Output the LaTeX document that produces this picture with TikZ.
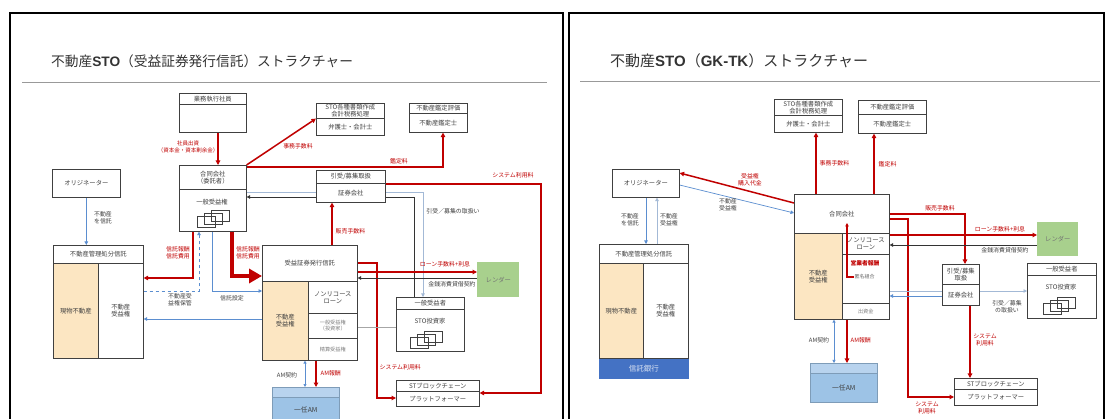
\documentclass[tikz,border=0pt]{standalone}
\usepackage{fontspec}
\setmainfont{Noto Sans CJK JP}
\newfontfamily\arialf{Liberation Sans}
\usetikzlibrary{arrows.meta}
\definecolor{myred}{HTML}{C00000}
\definecolor{myblue}{HTML}{5B8ED0}
\definecolor{lblue}{HTML}{A3B9D6}
\definecolor{beige}{HTML}{FCE6C2}
\definecolor{lgreen}{HTML}{A8D08D}
\definecolor{amblue}{HTML}{9DC3E6}
\definecolor{amtop}{HTML}{B8D3EE}
\definecolor{bankblue}{HTML}{4472C4}
\definecolor{txt}{HTML}{404040}
\pgfdeclarelayer{back}
\pgfdeclarelayer{bg}
\pgfsetlayers{back,bg,main}
\newcommand\bx[6]{\node[#1,anchor=north west,minimum width=#4pt-#2pt,minimum height=#5pt-#3pt] (#6) at (#2,#3)}
\newcommand\icn[2]{%
  \draw[icon] (#1,#2+6) rectangle ++(18,11);
  \draw[icon] (#1+7,#2+3) rectangle ++(18,11);
  \draw[icon] (#1+14,#2) rectangle ++(18,11);}
\begin{document}
\begin{tikzpicture}[x=1pt,y=-1pt,
  box/.style={draw=black!75, fill=white, line width=0.6pt, inner sep=0pt, text=txt, font=\fontsize{6.3}{7}\selectfont, align=center},
  graytext/.style={text=black!50, font=\fontsize{5.2}{6}\selectfont},
  amh/.style={box, draw=amblue!80!black, fill=amtop},
  amb/.style={box, draw=amblue!80!black, fill=amblue, font=\fontsize{6.8}{7}\selectfont},
  icon/.style={draw=black!75, line width=0.6pt},
  arrtip/.style={-{Triangle[length=3.5pt,width=3.5pt]}},
  dbltip/.style={{Triangle[length=3pt,width=3pt]}-{Triangle[length=3pt,width=3pt]}},
  redarr/.style={draw=myred, line width=1.5pt, -{Triangle[length=4.5pt,width=4.5pt]}},
  blkarr/.style={draw=black!80, line width=0.7pt, arrtip},
  blueln/.style={draw=myblue, line width=0.7pt},
  lbline/.style={draw=lblue, line width=0.7pt},
  grayln/.style={draw=black!35, line width=0.6pt},
  lbl/.style={text=txt, font=\fontsize{5.9}{6.7}\selectfont, align=center, inner sep=0.5pt},
  redlbl/.style={lbl, text=myred}]
\useasboundingbox (0,0) rectangle (1108,419);
\begin{pgfonlayer}{back}
\fill[white] (0,0) rectangle (1108,419);
\end{pgfonlayer}
% frames
\draw[line width=1.6pt] (10,422) -- (10,13) -- (563,13) -- (563,422);
\draw[line width=1.6pt] (569,422) -- (569,13) -- (1104,13) -- (1104,422);
\node[anchor=west, inner sep=0pt, font=\fontsize{13.7}{16}\selectfont, text=black!80] (Ltitle) at (51,61) {不動産{\arialf\bfseries STO}（受益証券発行信託）ストラクチャー};
\node[anchor=west, inner sep=0pt, font=\fontsize{15}{17}\selectfont, text=black!80] (Rtitle) at (610,61) {不動産{\arialf\bfseries STO}（{\arialf\bfseries GK-TK}）ストラクチャー};
\draw[black!40, line width=0.8pt] (22,82) -- (547,82);
\draw[black!40, line width=0.8pt] (580,81) -- (1100,81);

% ---------- left nodes ----------
\bx{box}{179}{93}{246}{104}{Lexech} {業務執行社員};
\bx{box}{179}{104}{246}{132}{Lexecb} {};
\bx{box}{179}{165}{246}{189}{Lgkh} {合同会社\\（委託者）};
\bx{box}{179}{189}{246}{231}{Lgkb} {};
\node[lbl, font=\fontsize{6.3}{7}\selectfont] (Lgkt) at (212,202) {一般受益権};
\icn{197}{210}
\bx{box}{52}{169}{120}{197}{Lorig} {オリジネーター};
\bx{box}{53}{245}{143}{263}{Lkanrih} {不動産管理処分信託};
\bx{box,fill=beige}{53}{263}{98}{358}{Lkanril} {現物不動産};
\bx{box}{98}{263}{143}{358}{Lkanrir} {不動産\\受益権};
\bx{box}{316}{103}{384}{118}{Lstoh} {STO各種書類作成\\会計税務処理};
\bx{box}{316}{118}{384}{135}{Lstob} {弁護士・会計士};
\bx{box}{409}{103}{467}{113}{Lkanteih} {不動産鑑定評価};
\bx{box}{409}{113}{467}{132}{Lkanteib} {不動産鑑定士};
\bx{box}{316}{170}{385}{183}{Lsech} {引受/募集取扱};
\bx{box}{316}{183}{385}{202}{Lsecb} {証券会社};
\bx{box}{262}{245}{357}{281}{Ltrusth} {受益証券発行信託};
\bx{box,fill=beige}{262}{281}{308}{360}{Ltrustl} {不動産\\受益権};
\bx{box}{308}{281}{357}{313}{Ltr1} {ノンリコース\\ローン};
\bx{box,graytext}{308}{313}{357}{338}{Ltr2} {一般受益権\\（投資家）};
\bx{box,graytext}{308}{338}{357}{360}{Ltr3} {精算受益権};
\bx{box,draw=none,fill=lgreen,text=black!55}{477}{262}{519}{297}{Llender} {レンダー};
\bx{box}{396}{297}{464}{309}{Linvh} {一般受益者};
\bx{box}{396}{309}{464}{351}{Linvb} {};
\node[lbl, font=\fontsize{6.3}{7}\selectfont] (Linvt) at (430,321) {STO投資家};
\icn{410}{331}
\bx{box}{396}{380}{479}{391}{Lsth} {STブロックチェーン};
\bx{box}{396}{391}{479}{406}{Lstb} {プラットフォーマー};
\bx{amh}{272}{387}{339}{397}{Lamh} {};
\bx{amb}{272}{397}{339}{423}{Lamb} {一任AM};

% ---------- right nodes ----------
\bx{box}{774}{99}{842}{115}{Rstoh} {STO各種書類作成\\会計税務処理};
\bx{box}{774}{115}{842}{132}{Rstob} {弁護士・会計士};
\bx{box}{858}{100}{926}{114}{Rkanteih} {不動産鑑定評価};
\bx{box}{858}{114}{926}{133}{Rkanteib} {不動産鑑定士};
\bx{box}{612}{169}{679}{197}{Rorig} {オリジネーター};
\bx{box}{599}{244}{688}{263}{Rkanrih} {不動産管理処分信託};
\bx{box,fill=beige}{599}{263}{643}{358}{Rkanril} {現物不動産};
\bx{box}{643}{263}{688}{358}{Rkanrir} {不動産\\受益権};
\bx{box,fill=bankblue,draw=bankblue,text=white!80!bankblue,font=\fontsize{7.5}{8}\selectfont}{599}{359}{688}{378}{Rbank} {信託銀行};
\bx{box}{794}{194}{889}{233}{Rgkh} {合同会社};
\bx{box,fill=beige}{794}{233}{842}{319}{Rgkl} {不動産\\受益権};
\bx{box}{842}{233}{889}{254}{Rr1} {ノンリコース\\ローン};
\bx{box}{842}{254}{889}{303}{Rr2} {};
\bx{box,graytext}{842}{303}{889}{319}{Rr3} {出資金};
\node[redlbl, font=\fontsize{5.8}{6.6}\bfseries] (Rop) at (865,263) {営業者報酬};
\node[lbl, anchor=west, text=black!60, font=\fontsize{5}{5.8}\selectfont] (Rtk) at (854,277) {匿名組合};
\bx{box,draw=none,fill=lgreen,text=black!55}{1037}{222}{1078}{256}{Rlender} {レンダー};
\bx{box}{942}{264}{979}{284}{Rsech} {引受/募集\\取扱};
\bx{box}{942}{284}{979}{305}{Rsecb} {証券会社};
\bx{box}{1027}{263}{1096}{275}{Rinvh} {一般受益者};
\bx{box}{1027}{275}{1096}{318}{Rinvb} {};
\node[lbl, font=\fontsize{6.3}{7}\selectfont] (Rinvt) at (1061,287) {STO投資家};
\icn{1043}{297}
\bx{box}{954}{378}{1037}{389}{Rsth} {STブロックチェーン};
\bx{box}{954}{389}{1037}{405}{Rstb} {プラットフォーマー};
\bx{amh}{810}{363}{877}{373}{Ramh} {};
\bx{amb}{810}{373}{877}{402}{Ramb} {一任AM};

% ---------- connectors ----------
\begin{pgfonlayer}{bg}
\draw[redarr] (218,0 |- Lexecb.south) -- (218,0 |- Lgkh.north);
\draw[redarr] (Lgkh.north east) -- (Lstoh.south west);
\draw[redarr] (Lgkh.east |- 0,167) -- (443,167) -- (443,0 |- Lkanteib.south);
\draw[lbline, arrtip] (Lgkb.east |- 0,192) -- (423,192) -- (423,0 |- Linvh.north);
\draw[blkarr] (414,0 |- Linvh.north) -- (414,197) -- (Lgkb.east |- 0,197);
\draw[redarr] (332,0 |- Ltrusth.north) -- (332,0 |- Lsecb.south);
\draw[redarr] (193,0 |- Lgkb.south) -- (193,278) -- (Lkanrir.east |- 0,278);
\draw[blueln, dashed, arrtip] (Lkanrir.east |- 0,291) -- (199,291) -- (199,0 |- Lgkb.south);
\draw[blueln, arrtip] (212,0 |- Lgkb.south) -- (212,291) -- (Ltrustl.west |- 0,291);
\draw[myred, line width=4pt, line join=miter, -{Triangle[length=13pt,width=14pt]}] (232,0 |- Lgkb.south) -- (232,276) -- (Ltrusth.west |- 0,276);
\draw[blueln, arrtip] (Ltrustl.west |- 0,319) -- (Lkanrir.east |- 0,319);
\draw[blueln, arrtip] (Lorig.south) -- (Lorig.south |- Lkanrih.north);
\draw[redarr] (Ltrusth.east |- 0,263) -- (377,263) -- (377,398) -- (Lstb.west |- 0,398);
\draw[redarr] (Ltrusth.east |- 0,272) -- (Llender.west |- 0,272);
\draw[blkarr] (Llender.west |- 0,278) -- (Ltrusth.east |- 0,278);
\draw[grayln] (Ltr2.east |- 0,327) -- (Linvb.west |- 0,327);
\draw[redarr] (Lsech.east |- 0,184) -- (541,184) -- (541,393) -- (Lstb.east |- 0,393);
\draw[redarr] (316,0 |- Ltr3.south) -- (316,0 |- Lamh.north);
\draw[blueln, dbltip] (305,0 |- Ltrustl.south) -- (305,0 |- Lamh.north);
\draw[redarr] (816,0 |- Rgkh.north) -- (816,0 |- Rstob.south);
\draw[redarr] (874,0 |- Rgkh.north) -- (874,0 |- Rkanteib.south);
\draw[redarr] (Rgkh.west |- 0,203) -- (Rorig.east |- 0,173);
\draw[blueln, arrtip] (Rorig.east |- 0,185) -- (Rgkh.west |- 0,213);
\draw[blueln, arrtip] (646,0 |- Rorig.south) -- (646,0 |- Rkanrih.north);
\draw[lbline, arrtip] (657,0 |- Rkanrih.north) -- (657,0 |- Rorig.south);
\draw[redarr] (Rgkh.east |- 0,214) -- (965,214) -- (965,0 |- Rsech.north);
\draw[redarr] (Rgkh.east |- 0,219) -- (908,219) -- (908,397) -- (Rstb.west |- 0,397);
\draw[redarr] (Rr1.east |- 0,235) -- (Rlender.west |- 0,235);
\draw[blkarr] (Rlender.west |- 0,245) -- (Rr1.east |- 0,245);
\draw[lbline, arrtip] (Rr2.east |- 0,291) -- (Rinvb.west |- 0,291);
\draw[blueln, arrtip] (Rsecb.west |- 0,296) -- (Rr2.east |- 0,296);
\draw[redarr] (970,0 |- Rsecb.south) -- (970,0 |- Rsth.north);
\draw[redarr] (847,0 |- Rr3.south) -- (847,0 |- Ramh.north);
\draw[blueln, dbltip] (834,0 |- Rgkl.south) -- (834,0 |- Ramh.north);
\end{pgfonlayer}
\draw[draw=myred, line width=1.1pt, -{Triangle[length=3.5pt,width=3.5pt]}] (Rtk.west) -- (847,0 |- Rtk.west) -- (847,223);

% ---------- left labels ----------
\node[redlbl, font=\fontsize{5.5}{6.3}\selectfont] (La) at (188,147) {社員出資\\（資本金・資本剰余金）};
\node[redlbl] (Lb) at (298,146) {事務手数料};
\node[redlbl] (Lc) at (399,161) {鑑定料};
\node[lbl] (Lf) at (453,211) {引受／募集の取扱い};
\node[redlbl, anchor=west] (Lg) at (335,231) {販売手数料};
\node[redlbl] (Lh) at (178,253) {信託報酬\\信託費用};
\node[lbl] (Li) at (180,300) {不動産受\\益権保管};
\node[lbl] (Lj) at (232,298) {信託設定};
\node[redlbl] (Lk) at (248,253) {信託報酬\\信託費用};
\node[lbl] (Lm) at (103,218) {不動産\\を信託};
\node[redlbl, anchor=west] (Ln) at (379,367) {システム利用料};
\node[redlbl] (Lo) at (445,264) {ローン手数料+利息};
\node[lbl] (Lp) at (452,284) {金銭消費貸借契約};
\node[redlbl] (Lr) at (513,175) {システム利用料};
\node[redlbl, anchor=west] (Ls) at (320,373) {AM報酬};
\node[lbl] (Lt) at (287,375) {AM契約};
% ---------- right labels ----------
\node[redlbl, anchor=west] (Ra) at (819,163) {事務手数料};
\node[redlbl, anchor=west] (Rb) at (878,164) {鑑定料};
\node[redlbl] (Rc) at (750,180) {受益権\\購入代金};
\node[lbl] (Rd) at (728,205) {不動産\\受益権};
\node[lbl] (Re) at (630,220) {不動産\\を信託};
\node[lbl] (Rf) at (669,220) {不動産\\受益権};
\node[redlbl] (Rg) at (940,208) {販売手数料};
\node[redlbl] (Rh) at (927,408) {システム\\利用料};
\node[redlbl] (Ri) at (1000,229) {ローン手数料+利息};
\node[lbl] (Rj) at (1005,250) {金銭消費貸借契約};
\node[lbl] (Rk) at (1007,307) {引受／募集\\の取扱い};
\node[redlbl] (Rm) at (985,340) {システム\\利用料};
\node[redlbl, anchor=west] (Rn) at (850,340) {AM報酬};
\node[lbl] (Ro) at (819,340) {AM契約};
\end{tikzpicture}
\end{document}
